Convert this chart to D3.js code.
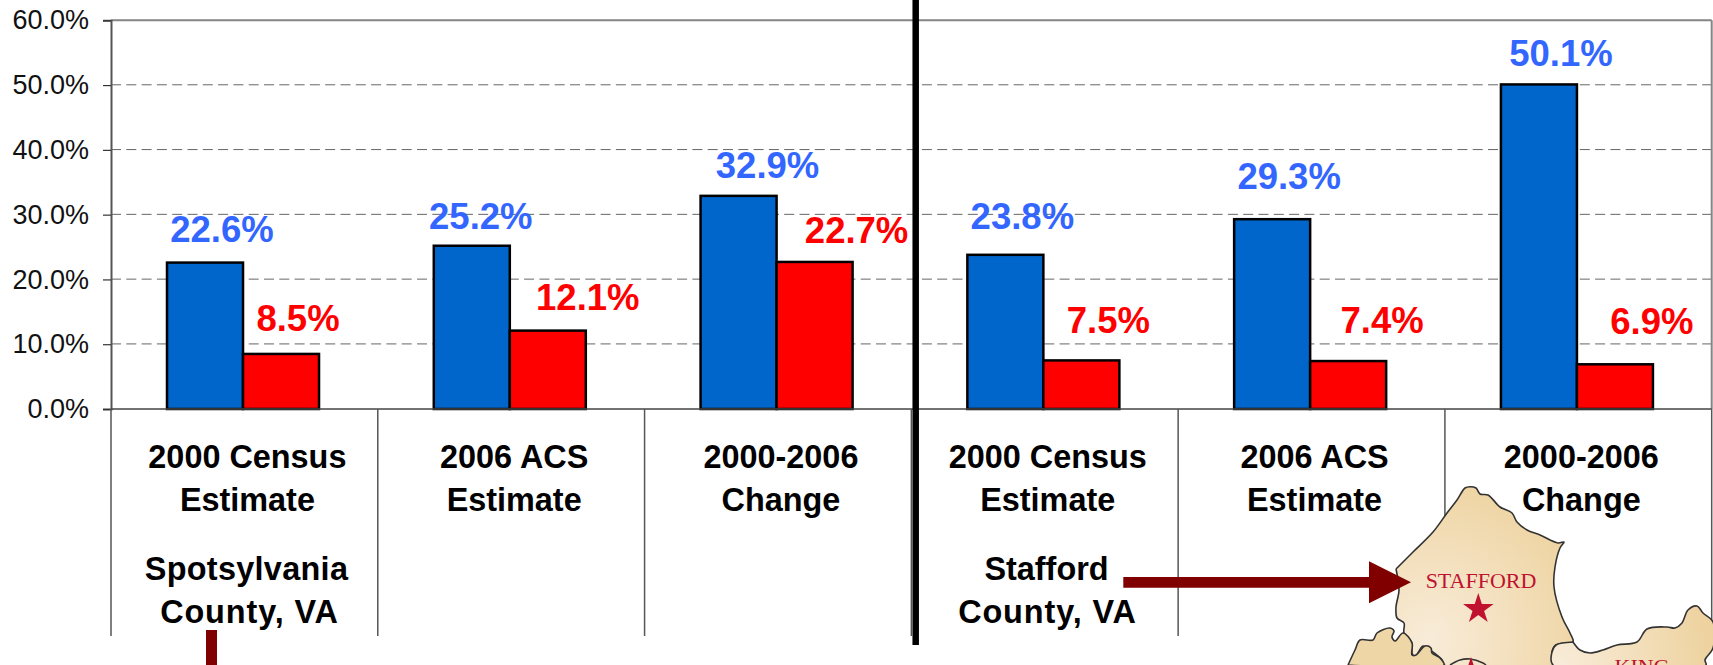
<!DOCTYPE html>
<html>
<head>
<meta charset="utf-8">
<title>Spotsylvania and Stafford County</title>
<script src="https://cdn.jsdelivr.net/npm/d3@7"></script>
<style>
    html, body { margin: 0; padding: 0; background: #fff; overflow: hidden; }
    svg { display: block; }
    text { font-family: "Liberation Sans", Arial, sans-serif; }
</style>
</head>
<body>
<div id="chart-area"></div>
<script>
// Chart data
const categories = ['2000 Census|Estimate', '2006 ACS|Estimate', '2000-2006|Change',
    '2000 Census |Estimate', '2006 ACS |Estimate', '2000-2006 |Change'];
const seriesNames = ['blue', 'red'];
const blueValues = [22.6, 25.2, 32.9, 23.8, 29.3, 50.1];
const redValues = [8.5, 12.1, 22.7, 7.5, 7.4, 6.9];
const yTicks = [0, 10, 20, 30, 40, 50, 60];

// The data labels were placed by hand in the original, so they sit off the bars by different amounts
const blueLabelShift = [[17, -21], [9, -17], [29, -18], [17, -26], [17, -30], [22, -18]];
const redLabelShift = [[17, -23], [40, -21], [42, -19], [27, -27], [34, -28], [37, -30]];

const WIDTH = 1713;
const HEIGHT = 665;
const MARGIN = {LEFT: 111, RIGHT: 1.3, TOP: 20.3, BOTTOM: 256};

const hGraph = HEIGHT - MARGIN.TOP - MARGIN.BOTTOM;
const wGraph = WIDTH - MARGIN.LEFT - MARGIN.RIGHT;

const svg = d3.select('#chart-area').append('svg')
    .attr('width', WIDTH)
    .attr('height', HEIGHT);

const group = svg.append('g')
    .attr('transform', `translate(${MARGIN.LEFT}, ${MARGIN.TOP})`);

const yScale = d3.scaleLinear().domain([0, 60]).range([hGraph, 0]);

const xScale = d3.scaleBand()
    .domain(categories)
    .range([0, wGraph]);

// Two bars per category, a touch left of the middle
const xInner = d3.scaleBand()
    .domain(seriesNames)
    .range([0, xScale.step()])
    .paddingOuter(0.755)
    .align(0.488);

// Dashed gridlines
group.append('g')
    .attr('class', 'grid')
    .call(d3.axisLeft(yScale).tickValues(yTicks.slice(1, -1)).tickSize(-wGraph).tickFormat('').offset(-0.3))
    .call(g => g.select('.domain').remove())
    .selectAll('line')
    .attr('stroke', '#666')
    .attr('stroke-width', 1)
    .attr('stroke-dasharray', '10,5.3');

// Top and right border of the plot
group.append('line')
    .attr('x1', 0).attr('x2', wGraph)
    .attr('y1', 0).attr('y2', 0)
    .attr('stroke', '#858585')
    .attr('stroke-width', 2);
group.append('line')
    .attr('x1', wGraph).attr('x2', wGraph)
    .attr('y1', 0).attr('y2', hGraph)
    .attr('stroke', '#858585')
    .attr('stroke-width', 2);

// Bars
const barGroups = group.selectAll('.cat')
    .data(categories)
    .enter()
    .append('g')
    .attr('class', 'cat')
    .attr('transform', d => `translate(${xScale(d)}, 0)`);

function drawBars(name, values, fill) {
    barGroups.append('rect')
        .attr('x', xInner(name))
        .attr('y', (d, i) => yScale(values[i]))
        .attr('width', xInner.bandwidth())
        .attr('height', (d, i) => hGraph - yScale(values[i]))
        .attr('fill', fill)
        .attr('stroke', '#000')
        .attr('stroke-width', 2.5);
}
drawBars('blue', blueValues, '#0066cc');
drawBars('red', redValues, '#ff0000');

// Y Axis
const yAxisCall = d3.axisLeft(yScale)
    .tickValues(yTicks)
    .tickSize(8)
    .tickPadding(14)
    .tickFormat(d => d.toFixed(1) + '%');
const yAxis = group.append('g')
    .attr('class', 'y axis')
    .call(yAxisCall);
yAxis.select('.domain').attr('stroke', '#555').attr('stroke-width', 2);
yAxis.selectAll('line').attr('stroke', '#333').attr('stroke-width', 1.2);
yAxis.selectAll('text')
    .attr('x', -22)
    .attr('font-size', '27px')
    .attr('fill', '#111')
    .attr('font-family', '"Liberation Sans", Arial, sans-serif');

// X Axis: the baseline and the long separators between categories
group.append('line')
    .attr('x1', 0).attr('x2', wGraph)
    .attr('y1', hGraph).attr('y2', hGraph)
    .attr('stroke', '#444')
    .attr('stroke-width', 1.6);

group.selectAll('.sep')
    .data(d3.range(categories.length + 1))
    .enter()
    .append('line')
    .attr('class', 'sep')
    .attr('x1', i => i * xScale.step())
    .attr('x2', i => i * xScale.step())
    .attr('y1', hGraph)
    .attr('y2', hGraph + 227)
    .attr('stroke', '#555')
    .attr('stroke-width', 1.5);

// The map in the bottom right corner
const defs = svg.append('defs');
const stafGrad = defs.append('radialGradient')
    .attr('id', 'staffordFill')
    .attr('gradientUnits', 'userSpaceOnUse')
    .attr('cx', 1430).attr('cy', 640).attr('r', 170);
stafGrad.append('stop').attr('offset', 0).attr('stop-color', '#f8ecd9');
stafGrad.append('stop').attr('offset', 1).attr('stop-color', '#eed3a0');
const kingGrad = defs.append('radialGradient')
    .attr('id', 'kingFill')
    .attr('gradientUnits', 'userSpaceOnUse')
    .attr('cx', 1560).attr('cy', 665).attr('r', 150);
kingGrad.append('stop').attr('offset', 0).attr('stop-color', '#f8ecd9');
kingGrad.append('stop').attr('offset', 1).attr('stop-color', '#eed3a0');

const outline = d3.line().curve(d3.curveCatmullRom.alpha(0.5));
const stafford = [[1396, 569], [1413, 552], [1433, 532], [1447, 513], [1457, 500], [1465, 488], [1470, 486.7],
    [1476, 488], [1480, 494], [1488, 495], [1500, 507], [1512, 513], [1517, 522], [1527, 530], [1540, 535],
    [1558, 543], [1564, 542], [1560, 548], [1555, 567], [1554, 587], [1562, 617], [1570, 633], [1573, 642],
    [1556, 645], [1552, 652], [1553, 665], [1444, 665], [1442, 660], [1430, 650], [1423, 646], [1415, 657],
    [1412, 653], [1412, 643], [1404, 633], [1404, 623], [1397, 618], [1396, 607], [1399, 590], [1396, 569]];
const king = [[1573, 642], [1580, 650], [1590, 653], [1603, 650], [1617, 645], [1637, 642], [1647, 629],
    [1667, 627], [1675, 628], [1682, 623], [1688, 610], [1697, 606], [1703, 613], [1713, 622], [1713, 648],
    [1705, 660], [1706, 665], [1553, 665], [1552, 652], [1556, 645], [1573, 642]];
const southwest = [[1348, 665], [1355, 650], [1360, 640], [1373, 640], [1377, 633], [1390, 628], [1394, 631],
    [1392, 637], [1395, 641], [1403, 633], [1412, 643], [1412, 655], [1416, 655], [1425, 646], [1431, 648],
    [1432, 653], [1440, 658], [1444, 665], [1348, 665]];
const city = [[1450, 665], [1460, 660], [1470, 659], [1483, 663], [1486, 665]];

const map = svg.append('g').attr('class', 'map')
    .attr('stroke', '#333')
    .attr('stroke-width', 1.6)
    .attr('stroke-linejoin', 'round');
map.append('path').attr('d', outline(stafford)).attr('fill', 'url(#staffordFill)');
map.append('path').attr('d', outline(king)).attr('fill', 'url(#kingFill)');
map.append('path').attr('d', outline(southwest)).attr('fill', '#efd6a6');
map.append('path').attr('d', outline(city)).attr('fill', 'none');

map.selectAll('.star')
    .data([[1478.3, 609, 287], [1471, 673, 287]])
    .enter()
    .append('path')
    .attr('class', 'star')
    .attr('d', d => d3.symbol().type(d3.symbolStar).size(d[2])())
    .attr('transform', d => `translate(${d[0]}, ${d[1]})`)
    .attr('fill', '#c0122f')
    .attr('stroke', 'none');

const mapLabels = svg.append('g')
    .attr('fill', '#c0122f')
    .attr('font-size', '22px');
mapLabels.append('text').attr('x', 1481).attr('y', 587.5).attr('text-anchor', 'middle')
    .style('font-family', '"Liberation Serif", serif').text('STAFFORD');
mapLabels.append('text').attr('x', 1642).attr('y', 674).attr('text-anchor', 'middle')
    .style('font-family', '"Liberation Serif", serif').text('KING');

// Arrows from the county names
const arrowColor = '#800000';
svg.append('path')
    .attr('d', 'M1123.3,577 H1369 V561.3 L1411,582.3 L1369,603.3 V587.8 H1123.3 Z')
    .attr('fill', arrowColor);
svg.append('rect')
    .attr('x', 206).attr('y', 630)
    .attr('width', 11).attr('height', 35)
    .attr('fill', arrowColor);

// Heavy divider between the two counties
svg.append('line')
    .attr('x1', 915.7).attr('x2', 915.7)
    .attr('y1', 0).attr('y2', 645)
    .attr('stroke', '#000')
    .attr('stroke-width', 6.5);

// Category labels
const catLabels = group.selectAll('.cat-label')
    .data(categories)
    .enter()
    .append('text')
    .attr('class', 'cat-label')
    .attr('font-size', '32.4px')
    .attr('font-weight', 'bold')
    .attr('text-anchor', 'middle')
    .attr('fill', '#000');
catLabels.selectAll('tspan')
    .data(d => d.trim().split('|').map(line => ({line, cat: d})))
    .enter()
    .append('tspan')
    .attr('x', d => xScale(d.cat) + xScale.step() / 2 + 3)
    .attr('y', (d, i) => hGraph + 59 + i * 42.7)
    .text(d => d.line.trim());

// County names under the first and the fourth category
function countyLabel(line, cx, y, spacing) {
    svg.append('text')
        .attr('x', cx)
        .attr('y', y)
        .attr('font-size', '32.4px')
        .attr('font-weight', 'bold')
        .attr('text-anchor', 'middle')
        .attr('letter-spacing', spacing)
        .attr('fill', '#000')
        .text(line);
}
countyLabel('Spotsylvania', 246.5, 580, 0.3);
countyLabel('County, VA', 249.5, 622.7, 0.9);
countyLabel('Stafford', 1046.5, 580, 0);
countyLabel('County, VA', 1047.5, 622.7, 0.9);

// Data labels
function drawLabels(name, values, shifts, fill) {
    barGroups.append('text')
        .attr('x', (d, i) => xInner(name) + xInner.bandwidth() / 2 + shifts[i][0])
        .attr('y', (d, i) => yScale(values[i]) + shifts[i][1])
        .attr('font-size', '36.5px')
        .attr('font-weight', 'bold')
        .attr('text-anchor', 'middle')
        .attr('fill', fill)
        .text((d, i) => values[i].toFixed(1) + '%');
}
drawLabels('blue', blueValues, blueLabelShift, '#3366ff');
drawLabels('red', redValues, redLabelShift, '#ff0000');
</script>
</body>
</html>
